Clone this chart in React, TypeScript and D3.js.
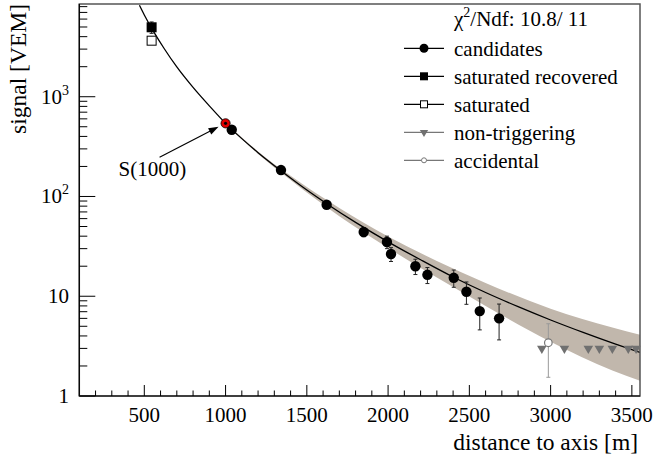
import React from 'react';
import * as d3 from 'd3';

const W = 654;
const H = 459;
const FONT = '"Liberation Serif", "Times New Roman", Times, "DejaVu Serif", serif';

// axis ranges
const X_MIN = 100;
const X_MAX = 3550;
const Y_MIN = 1;
const Y_MAX = 8500;
const xMajorTicks = [500, 1000, 1500, 2000, 2500, 3000, 3500];
const yMajorTicks = [1, 10, 100, 1000];
const yTickExp = ['', '', '2', '3'];
const yTickBase = ['1', '10', '10', '10'];

// candidates
const candR = [1038, 1341, 1622, 1850, 1993, 2018, 2168, 2242, 2404, 2482, 2564, 2683];
const candS = [467, 184, 82.7, 44, 35, 26.5, 20.0, 16.4, 15.3, 11.1, 7.1, 6.0];
const candErr = [15, 7, 4, 4.5, 5, 4.2, 3.5, 3.0, 3.0, 2.8, 2.5, 2.35];

// saturated recovered / saturated
const satRecR = [545];
const satRecS = [4966];
const satRecErr = [650];
const satR = [545];
const satS = [3645];

// non-triggering
const nonTrigR = [2946, 3085, 3232, 3300, 3380, 3478, 3526];
const nonTrigS = [3.0, 3.0, 3.0, 3.0, 3.0, 3.0, 3.0];

// accidental
const accR = [2986];
const accS = [3.42];
const accErr = [1.88];

// S(1000)
const s1000R = 1000;
const s1000S = 541;

// fit curve
const fitR = [470, 500, 560, 620, 700, 800, 900, 1000, 1100, 1200, 1341, 1500, 1622, 1800, 2000, 2200, 2400, 2600, 2800, 3000, 3200, 3400, 3550];
const fitS = [8250, 6600, 4420, 3080, 1990, 1240, 810, 541, 380, 275, 181, 116, 84.7, 55.0, 35.1, 23.2, 15.6, 10.9, 7.86, 5.78, 4.34, 3.31, 2.73];

// fit uncertainty band
const bandR = [1000, 1200, 1400, 1700, 2000, 2300, 2600, 3000, 3380, 3550];
const bandLo = [533, 267, 146, 63.5, 30.5, 15.4, 8.0, 3.5, 1.8, 1.42];
const bandHi = [549, 283, 161, 76.5, 39.7, 22.6, 13.6, 7.5, 4.85, 4.1];

const legendLabels = ['candidates', 'saturated recovered', 'saturated', 'non-triggering', 'accidental'];

export default function App() {
  const m = { l: 79.3, r: 640, t: 4, b: 396 };
  const x = d3.scaleLinear().domain([X_MIN, X_MAX]).range([m.l, m.r]);
  const y = d3.scaleLog().domain([Y_MIN, Y_MAX]).range([m.b, m.t]);

  const xMinor = d3.range(200, 3501, 100).filter((v) => v % 500 !== 0);
  const yMinor: number[] = [];
  [1, 10, 100, 1000].forEach((d) => {
    for (let k = 2; k <= 9; k++) {
      const v = k * d;
      if (v <= Y_MAX) yMinor.push(v);
    }
  });

  const fitLine = d3
    .line<number>()
    .x((_, i) => x(fitR[i]))
    .y((_, i) => y(fitS[i]))
    .curve(d3.curveMonotoneX)(fitR) as string;

  const band = d3
    .area<number>()
    .x((_, i) => x(bandR[i]))
    .y0((_, i) => y(bandLo[i]))
    .y1((_, i) => y(bandHi[i]))
    .curve(d3.curveMonotoneX)(bandR) as string;

  const tri = d3.symbol().type(d3.symbolTriangle).size(40)() as string;
  const triSmall = d3.symbol().type(d3.symbolTriangle).size(30)() as string;

  const errBar = (px: number, v: number, e: number, color: string, key: string) => {
    const y1 = y(v + e);
    const y0 = y(Math.max(v - e, Y_MIN * 1.0001));
    return (
      <g key={key} stroke={color} strokeWidth={1}>
        <line x1={px} x2={px} y1={y0} y2={y1} />
        <line x1={px - 2} x2={px + 2} y1={y0} y2={y0} />
        <line x1={px - 2} x2={px + 2} y1={y1} y2={y1} />
      </g>
    );
  };

  const sx = x(s1000R);
  const sy = y(s1000S);
  const arrEnd = [sx - 7, sy + 3.5];
  const arrStart = [sx - 66, sy + 34];
  const ang = Math.atan2(arrEnd[1] - arrStart[1], arrEnd[0] - arrStart[0]);
  const hl = 10;
  const hw = 3.5;
  const ah = [
    [arrEnd[0], arrEnd[1]],
    [arrEnd[0] - hl * Math.cos(ang) + hw * Math.sin(ang), arrEnd[1] - hl * Math.sin(ang) - hw * Math.cos(ang)],
    [arrEnd[0] - hl * Math.cos(ang) - hw * Math.sin(ang), arrEnd[1] - hl * Math.sin(ang) + hw * Math.cos(ang)],
  ];

  // legend layout
  const lgX0 = 404;
  const lgX1 = 444;
  const lgMx = 424;
  const lgTx = 454;
  const lgY0 = 48.3;
  const lgDy = 28;

  const ts = { fontFamily: FONT } as React.CSSProperties;

  return (
    <svg
      width={W}
      height={H}
      viewBox={`0 0 ${W} ${H}`}
      style={{ position: 'absolute', left: 0, top: 0, display: 'block', background: '#fff', fontFamily: FONT }}
    >
      <defs>
        <clipPath id="plotClip">
          <rect x={m.l} y={m.t} width={m.r - m.l} height={m.b - m.t} />
        </clipPath>
      </defs>
      <rect x={0} y={0} width={W} height={H} fill="#fff" />

      <g clipPath="url(#plotClip)">
        <path d={band} fill="#c1b7ac" stroke="none" />
        <path d={fitLine} fill="none" stroke="#000" strokeWidth={1.3} />
      </g>

      {/* frame */}
      <rect x={m.l} y={m.t} width={m.r - m.l} height={m.b - m.t} fill="none" stroke="#555" strokeWidth={1.5} />
      <line x1={m.l} x2={m.r} y1={m.b} y2={m.b} stroke="#000" strokeWidth={1.2} />
      <line x1={m.l} x2={m.l} y1={m.t} y2={m.b} stroke="#000" strokeWidth={1.2} />

      {/* x ticks */}
      {xMajorTicks.map((v) => (
        <g key={'xM' + v}>
          <line x1={x(v)} x2={x(v)} y1={m.b} y2={m.b - 11} stroke="#000" />
          <text x={x(v)} y={422} fontSize={21} textAnchor="middle" style={ts}>
            {v}
          </text>
        </g>
      ))}
      {xMinor.map((v) => (
        <line key={'xm' + v} x1={x(v)} x2={x(v)} y1={m.b} y2={m.b - 5.5} stroke="#000" />
      ))}

      {/* y ticks */}
      {yMajorTicks.map((v, i) => (
        <g key={'yM' + v}>
          <line x1={m.l} x2={m.l + 16} y1={y(v)} y2={y(v)} stroke="#000" />
          <text x={69} y={y(v) + 7} fontSize={21} textAnchor="end" style={ts}>
            {yTickBase[i]}
            {yTickExp[i] && (
              <tspan fontSize={14} dy={-9}>
                {yTickExp[i]}
              </tspan>
            )}
          </text>
        </g>
      ))}
      {yMinor.map((v) => (
        <line key={'ym' + v} x1={m.l} x2={m.l + 8} y1={y(v)} y2={y(v)} stroke="#000" />
      ))}

      {/* error bars */}
      {candR.map((r, i) => errBar(x(r), candS[i], candErr[i], '#222', 'ce' + i))}
      {satRecR.map((r, i) => errBar(x(r), satRecS[i], satRecErr[i], '#222', 'se' + i))}
      {accR.map((r, i) => errBar(x(r), accS[i], accErr[i], '#999', 'ae' + i))}

      {/* markers */}
      {satR.map((r, i) => (
        <rect key={'s' + i} x={x(r) - 4.5} y={y(satS[i]) - 4.5} width={9} height={9} fill="#fff" stroke="#000" strokeWidth={1} />
      ))}
      {satRecR.map((r, i) => (
        <rect key={'sr' + i} x={x(r) - 5} y={y(satRecS[i]) - 5} width={10} height={10} fill="#000" />
      ))}
      {nonTrigR.map((r, i) => (
        <path key={'nt' + i} d={tri} transform={`translate(${x(r)},${y(nonTrigS[i])}) rotate(180)`} fill="#707070" />
      ))}
      {accR.map((r, i) => (
        <circle key={'ac' + i} cx={x(r)} cy={y(accS[i])} r={3.8} fill="#fff" stroke="#777" strokeWidth={1.2} />
      ))}
      {candR.map((r, i) => (
        <circle key={'c' + i} cx={x(r)} cy={y(candS[i])} r={5.2} fill="#000" />
      ))}

      {/* S(1000) */}
      <circle cx={sx} cy={sy} r={4.6} fill="#e00000" stroke="#000" strokeWidth={0.8} />
      <circle cx={sx} cy={sy} r={1.6} fill="#000" />
      <line x1={arrStart[0]} y1={arrStart[1]} x2={arrEnd[0] - 6 * Math.cos(ang)} y2={arrEnd[1] - 6 * Math.sin(ang)} stroke="#000" strokeWidth={1.2} />
      <polygon points={ah.map((p) => p.join(',')).join(' ')} fill="#000" />
      <text x={sx - 107} y={sy + 53} fontSize={21} style={ts}>
        S(1000)
      </text>

      {/* legend */}
      <text x={lgTx} y={26} fontSize={21} style={ts}>
        χ<tspan fontSize={14} dy={-9}>2</tspan>
        <tspan dy={9}>/Ndf: 10.8/ 11</tspan>
      </text>
      {legendLabels.map((lab, i) => {
        const ly = lgY0 + i * lgDy;
        const col = i < 3 ? '#000' : '#777';
        let mark: React.ReactNode = null;
        if (i === 0) mark = <circle cx={lgMx} cy={ly} r={4.5} fill="#000" />;
        if (i === 1) mark = <rect x={lgMx - 4} y={ly - 4} width={8} height={8} fill="#000" />;
        if (i === 2) mark = <rect x={lgMx - 3.5} y={ly - 3.5} width={7} height={7} fill="#fff" stroke="#000" strokeWidth={1} />;
        if (i === 3) mark = <path d={triSmall} transform={`translate(${lgMx},${ly}) rotate(180)`} fill="#707070" />;
        if (i === 4) mark = <circle cx={lgMx} cy={ly} r={2.5} fill="#fff" stroke="#777" strokeWidth={1} />;
        return (
          <g key={'lg' + i}>
            <line x1={lgX0} x2={lgX1} y1={ly} y2={ly} stroke={col} strokeWidth={1.2} />
            {mark}
            <text x={lgTx} y={ly + 7.5} fontSize={21} style={ts}>
              {lab}
            </text>
          </g>
        );
      })}

      {/* axis titles */}
      <text x={638} y={450} fontSize={23.5} textAnchor="end" style={ts}>
        distance to axis [m]
      </text>
      <text transform="translate(26,4) rotate(-90)" fontSize={23.5} textAnchor="end" style={ts}>
        signal [VEM]
      </text>
    </svg>
  );
}
